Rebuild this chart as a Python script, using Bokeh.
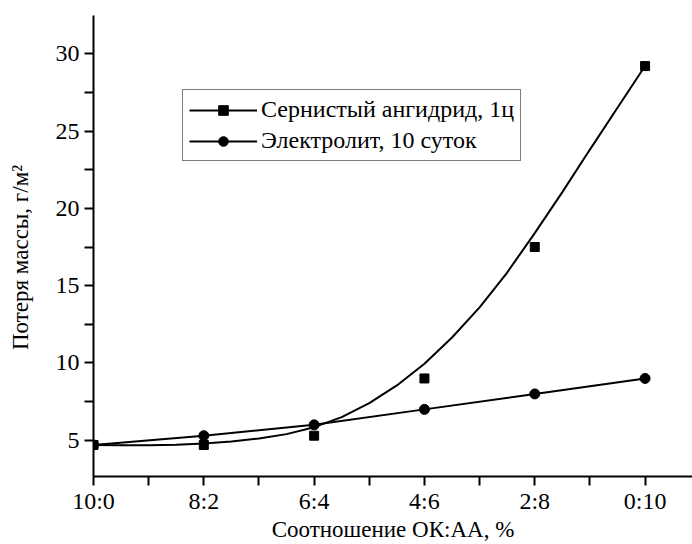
from bokeh.plotting import figure
from bokeh.models import Range1d, FixedTicker, Legend, LegendItem
from bokeh.embed import file_html
from bokeh.resources import INLINE

categories = ["10:0", "8:2", "6:4", "4:6", "2:8", "0:10"]
so2_values = [4.7, 4.7, 5.3, 9.0, 17.5, 29.2]
electrolyte_values = [4.7, 5.3, 6.0, 7.0, 8.0, 9.0]
# smooth curve
curve_x = [0, 0.25, 0.5, 0.75, 1, 1.25, 1.5, 1.75, 2, 2.25, 2.5, 2.75, 3,
           3.25, 3.5, 3.75, 4, 4.25, 4.5, 4.75, 5]
curve_y = [4.70, 4.68, 4.68, 4.72, 4.80, 4.93, 5.12, 5.40, 5.85, 6.50, 7.40,
           8.55, 9.95, 11.65, 13.60, 15.85, 18.40, 21.05, 23.80, 26.50, 29.20]
y_ticks = [5, 10, 15, 20, 25, 30]

FONT = "'Liberation Serif', 'Times New Roman', serif"
xs = list(range(len(categories)))

p = figure(width=692, height=544, output_backend="svg", toolbar_location=None,
           x_range=Range1d(0, 5.43), y_range=Range1d(2.66, 32.47),
           min_border_left=93, min_border_right=0, min_border_top=15,
           min_border_bottom=60)
p.outline_line_color = None
p.xgrid.visible = False
p.ygrid.visible = False
p.background_fill_color = "white"
p.border_fill_color = "white"

l1 = p.line(curve_x, curve_y, line_color="black", line_width=2)
s1 = p.scatter(xs, so2_values, marker="square", size=9, fill_color="black",
               line_color="black")
l2 = p.line(xs, electrolyte_values, line_color="black", line_width=2)
s2 = p.scatter(xs, electrolyte_values, marker="circle", size=10,
               fill_color="black", line_color="black")

for ax in (p.xaxis[0], p.yaxis[0]):
    ax.axis_line_width = 2
    ax.major_tick_line_width = 2
    ax.minor_tick_line_width = 2
    ax.major_tick_in = 0
    ax.major_tick_out = 9
    ax.minor_tick_in = 0
    ax.minor_tick_out = 9
    ax.major_label_text_font = FONT
    ax.major_label_text_font_size = "24px"
    ax.major_label_text_color = "black"
    ax.axis_label_text_font = FONT
    ax.axis_label_text_font_size = "23px"
    ax.axis_label_text_font_style = "normal"
    ax.axis_label_text_color = "black"

p.xaxis[0].ticker = FixedTicker(ticks=xs, minor_ticks=[i + 0.5 for i in xs])
p.xaxis[0].major_label_overrides = {i: c for i, c in zip(xs, categories)}
p.xaxis[0].axis_label = "Соотношение ОК:АА, %"
p.xaxis[0].major_label_standoff = 2
p.xaxis[0].axis_label_standoff = 0

p.yaxis[0].ticker = FixedTicker(ticks=y_ticks,
                                minor_ticks=[2.5, 7.5, 12.5, 17.5, 22.5, 27.5, 32.5])
p.yaxis[0].axis_label = "Потеря массы, г/м²" + "\u00a0" * 4
p.yaxis[0].axis_label_text_font_size = "23px"
p.yaxis[0].major_label_standoff = 5
p.yaxis[0].axis_label_standoff = 20

legend = Legend(items=[
    LegendItem(label="Сернистый ангидрид, 1ц", renderers=[l1, s1]),
    LegendItem(label="Электролит, 10 суток", renderers=[l2, s2]),
], location=(89, 315))
legend.border_line_color = "black"
legend.border_line_width = 1.5
legend.background_fill_alpha = 1
legend.label_text_font = FONT
legend.label_text_font_size = "24px"
legend.label_text_color = "black"
legend.glyph_width = 68
legend.glyph_height = 24
legend.label_height = 24
legend.label_standoff = 4
legend.spacing = 4
legend.padding = 6
legend.margin = 0
p.add_layout(legend, "center")

open("out.html", "w").write(file_html(p, INLINE))
